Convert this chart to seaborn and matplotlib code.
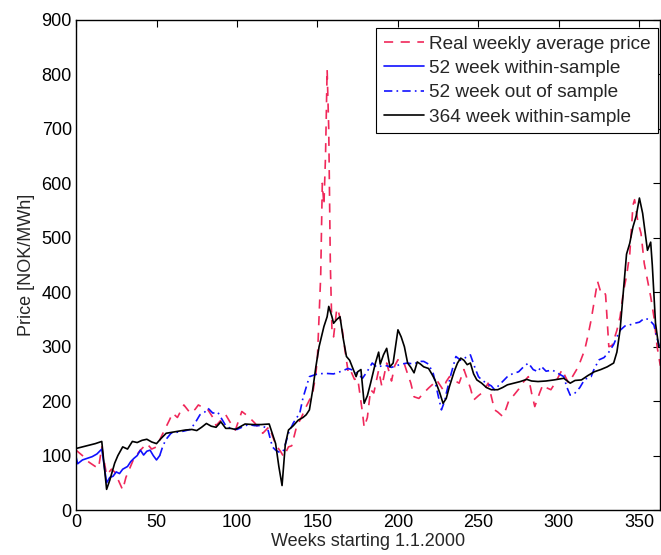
import matplotlib
matplotlib.use("Agg")
import matplotlib.pyplot as plt
import seaborn as sns

# Real weekly average price (red dashed)
real_weeks = [0, 4, 8, 12, 14, 16, 19, 22, 24, 27, 29, 31, 33, 36, 40, 44, 47, 50, 53, 55,
              58, 60, 63, 67, 71, 74, 76, 79, 82, 85, 87, 90, 93, 96, 99, 103, 107, 111, 116, 120,
              124, 127, 129, 132, 134, 137, 140, 143, 147, 149, 150, 152, 153, 154, 155, 156, 157, 158, 159, 160,
              162, 163, 165, 167, 169, 170, 173, 175, 178, 179, 181, 183, 185, 188, 190, 193, 196, 198, 200, 202,
              204, 206, 208, 210, 213, 216, 219, 222, 224, 228, 230, 232, 235, 238, 241, 245, 247, 250, 253, 256,
              260, 262, 265, 267, 269, 272, 275, 277, 281, 283, 285, 288, 290, 292, 295, 298, 302, 304, 306, 309,
              312, 316, 318, 320, 322, 324, 326, 328, 329, 331, 333, 336, 338, 340, 342, 344, 346, 347, 349, 351,
              353, 355, 357, 359, 361, 363]
real_price = [110, 100, 88, 80, 77, 116, 64, 75, 70, 50, 37, 60, 74, 95, 110, 122, 112, 116, 135, 147,
              165, 178, 170, 193, 178, 185, 193, 188, 184, 170, 155, 165, 175, 160, 147, 181, 172, 160, 141, 153,
              120, 108, 98, 116, 118, 153, 170, 190, 214, 250, 282, 430, 600, 560, 650, 809, 700, 450, 330, 318,
              370, 365, 340, 295, 255, 260, 240, 242, 178, 152, 170, 221, 215, 257, 227, 270, 237, 265, 276, 275,
              268, 250, 233, 208, 205, 215, 224, 232, 239, 221, 236, 245, 238, 233, 258, 224, 202, 210, 217, 233,
              184, 180, 172, 185, 202, 211, 222, 232, 245, 215, 190, 215, 230, 225, 221, 235, 258, 245, 233, 248,
              263, 294, 320, 349, 385, 420, 400, 402, 395, 300, 302, 330, 355, 400, 430, 470, 560, 570, 530, 508,
              453, 423, 392, 355, 300, 265]

# 52 week within-sample (blue solid)
in52_weeks = [0, 1, 4, 7, 10, 13, 16, 19, 21, 23, 25, 27, 29, 32, 34, 36, 38, 40, 42, 44,
              46, 48, 50, 52]
in52_price = [98, 85, 92, 95, 98, 103, 112, 50, 60, 62, 70, 67, 75, 80, 89, 95, 100, 110, 101, 108,
              110, 100, 92, 100]

# 52 week out of sample (blue dash-dot)
out52_weeks = [52, 54, 56, 59, 63, 67, 71, 74, 77, 80, 82, 85, 88, 91, 93, 96, 100, 103, 107, 111,
               115, 119, 122, 124, 127, 129, 132, 135, 139, 141, 145, 150, 155, 160, 165, 169, 172, 175, 178, 181,
               184, 187, 190, 193, 196, 199, 202, 206, 210, 213, 216, 219, 222, 225, 227, 229, 230, 233, 236, 239,
               242, 245, 248, 250, 252, 255, 258, 260, 263, 266, 268, 271, 275, 278, 281, 284, 287, 289, 292, 296,
               300, 303, 305, 307, 310, 313, 316, 320, 322, 325, 328, 331, 334, 336, 338, 341, 344, 347, 350, 353,
               356, 359, 361, 363]
out52_price = [100, 118, 130, 141, 143, 145, 148, 160, 175, 180, 187, 178, 180, 165, 155, 150, 148, 152, 157, 155,
               155, 150, 116, 110, 105, 110, 141, 160, 178, 206, 245, 250, 251, 250, 255, 260, 257, 250, 242, 255,
               270, 262, 265, 265, 262, 265, 268, 270, 268, 273, 273, 268, 250, 210, 184, 200, 214, 250, 282, 275,
               280, 285, 260, 245, 239, 233, 228, 221, 230, 239, 245, 250, 254, 263, 270, 258, 254, 264, 255, 257,
               250, 245, 225, 211, 215, 225, 240, 245, 260, 276, 280, 290, 304, 318, 330, 338, 340, 343, 345, 352,
               350, 340, 315, 295]

# 364 week within-sample (black solid)
in364_weeks = [0, 4, 8, 12, 16, 19, 21, 24, 26, 29, 32, 35, 38, 41, 44, 47, 50, 53, 56, 60,
               64, 68, 72, 75, 78, 81, 84, 87, 90, 93, 96, 99, 102, 105, 110, 115, 120, 122, 124, 126,
               128, 130, 132, 135, 138, 141, 143, 145, 147, 149, 151, 154, 156, 157, 159, 160, 162, 164, 166, 168,
               170, 172, 174, 175, 177, 179, 181, 183, 186, 188, 189, 191, 193, 195, 197, 199, 200, 202, 204, 206,
               208, 210, 212, 214, 216, 219, 221, 223, 226, 228, 230, 232, 235, 237, 239, 241, 243, 245, 247, 249,
               252, 255, 258, 262, 265, 268, 272, 276, 280, 283, 287, 292, 297, 303, 307, 310, 314, 318, 322, 326,
               330, 334, 336, 338, 340, 342, 344, 346, 348, 350, 352, 354, 355, 357, 358, 360, 362]
in364_price = [113, 116, 119, 122, 126, 38, 55, 86, 100, 116, 112, 126, 124, 128, 130, 125, 122, 132, 141, 143,
               145, 147, 148, 146, 152, 159, 154, 152, 162, 150, 150, 148, 153, 158, 157, 157, 158, 140, 122, 80,
               45, 120, 147, 155, 165, 170, 175, 184, 220, 263, 300, 337, 355, 374, 355, 343, 350, 355, 315, 282,
               275, 260, 245, 254, 258, 196, 210, 233, 270, 290, 268, 285, 297, 263, 270, 310, 331, 318, 300, 270,
               262, 252, 272, 268, 263, 260, 250, 239, 215, 196, 205, 227, 255, 270, 279, 275, 267, 270, 250, 239,
               233, 225, 221, 221, 225, 230, 233, 236, 240, 237, 236, 237, 239, 242, 233, 238, 239, 247, 254, 258,
               263, 270, 290, 331, 400, 470, 490, 520, 540, 573, 545, 500, 477, 492, 450, 343, 300]

sns.set_style("white")
plt.rcParams['font.family'] = ['Liberation Sans', 'DejaVu Sans']

fig = plt.figure(figsize=(6.61, 5.55), dpi=100)
ax = fig.add_axes([0.115, 0.081, 0.884, 0.883])

sns.lineplot(x=real_weeks, y=real_price, ax=ax, color='#f0285a', linewidth=1.2,
             estimator=None, label='Real weekly average price')
ax.lines[-1].set_dashes([5.5, 4.5])
sns.lineplot(x=in52_weeks, y=in52_price, ax=ax, color='#1010ff', linewidth=1.2,
             estimator=None, label='52 week within-sample')
sns.lineplot(x=out52_weeks, y=out52_price, ax=ax, color='#1010ff', linewidth=1.2,
             estimator=None, label='52 week out of sample')
ax.lines[-1].set_dashes([5, 2.5, 1, 2.5])
sns.lineplot(x=in364_weeks, y=in364_price, ax=ax, color='black', linewidth=1.2,
             estimator=None, label='364 week within-sample')

ax.set_xlim(0, 363)
ax.set_ylim(0, 900)
ax.set_xticks(range(0, 351, 50))
ax.set_yticks(range(0, 901, 100))
ax.tick_params(direction='in', top=True, right=True, length=5, width=0.8,
               labelsize=13, pad=3, colors='black')
for s in ax.spines.values():
    s.set_color('black')
    s.set_linewidth(1.0)

ax.set_xlabel('Weeks starting 1.1.2000', fontsize=13, labelpad=1)
ax.set_ylabel('Price [NOK/MWh]', fontsize=13, labelpad=5)

leg = ax.legend(loc='upper right', bbox_to_anchor=(0.996, 0.984), borderaxespad=0,
                fontsize=13.7, frameon=True, fancybox=False, framealpha=1,
                edgecolor='black', handlelength=2.1, handletextpad=0.27,
                labelspacing=0.37, borderpad=0.4)
leg.get_frame().set_linewidth(0.8)

fig.savefig('out.png', dpi=100)
